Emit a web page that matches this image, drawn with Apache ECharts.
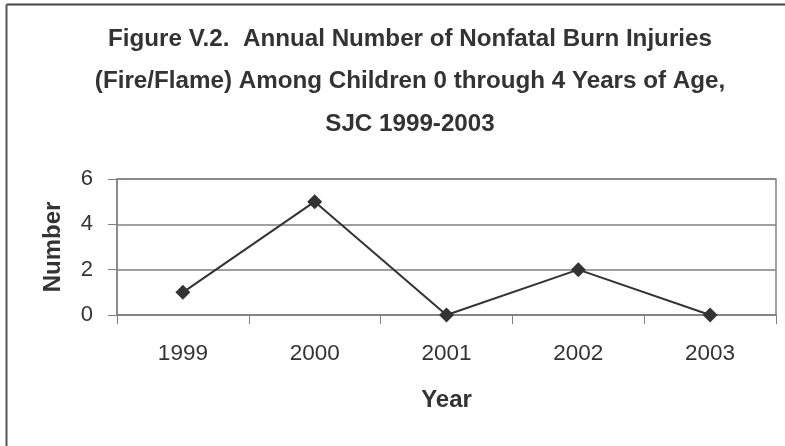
<!DOCTYPE html>
<html><head><meta charset="utf-8">
<script src="https://cdn.jsdelivr.net/npm/echarts@6/dist/echarts.min.js"></script>
<style>html,body{margin:0;padding:0;background:#fff}#c{width:785px;height:446px}</style>
</head><body><div id="c"></div>
<script>
var titleLines = ['Figure V.2.  Annual Number of Nonfatal Burn Injuries', '(Fire/Flame) Among Children 0 through 4 Years of Age,', 'SJC 1999-2003'];
var years = ['1999', '2000', '2001', '2002', '2003'];
var injuries = [1, 5, 0, 2, 0];
var yTicks = [0, 2, 4, 6];

var chart = echarts.init(document.getElementById('c'), null, {renderer: 'canvas'});
var font = 'Liberation Sans, Arial, sans-serif';
chart.setOption({
  animation: false,
  backgroundColor: '#fff',
  title: {
    text: titleLines.join('\n'),
    left: 405, top: 13, textAlign: 'center',
    textStyle: {fontFamily: font, fontSize: 24.2, fontWeight: 'bold', color: '#333', lineHeight: 42.5}
  },
  graphic: [
    {type: 'line', shape: {x1: 6.5, y1: 4.5, x2: 785, y2: 4.5}, style: {stroke: '#444', lineWidth: 2}},
    {type: 'line', shape: {x1: 6.5, y1: 4.5, x2: 6.5, y2: 446}, style: {stroke: '#555', lineWidth: 2}}
  ],
  grid: {left: 117, top: 179, right: 9, bottom: 131, show: true, borderColor: '#8a8080', borderWidth: 1.5, containLabel: false},
  xAxis: {
    type: 'category', data: years, boundaryGap: true,
    name: 'Year', nameLocation: 'middle', nameGap: 73,
    nameTextStyle: {fontFamily: font, fontSize: 24, fontWeight: 'bold', color: '#333'},
    axisLine: {show: true, lineStyle: {color: '#8a8080', width: 1.5}},
    axisTick: {show: true, length: 9, lineStyle: {color: '#808080'}},
    axisLabel: {fontFamily: font, fontSize: 22.5, color: '#333', margin: 27},
    splitLine: {show: false}
  },
  yAxis: {
    type: 'value', min: 0, max: 6, interval: 2,
    name: 'Number', nameLocation: 'middle', nameGap: 52,
    nameTextStyle: {fontFamily: font, fontSize: 24, fontWeight: 'bold', color: '#333'},
    axisLine: {show: true, lineStyle: {color: '#8a8080', width: 1.5}},
    axisTick: {show: true, length: 9, lineStyle: {color: '#808080'}},
    axisLabel: {fontFamily: font, fontSize: 22, color: '#333', margin: 24,
      formatter: function (v) { return yTicks.indexOf(v) >= 0 ? String(v) : ''; }},
    splitLine: {show: true, lineStyle: {color: '#808080', width: 1.5}}
  },
  series: [{
    type: 'line', data: injuries,
    symbol: 'diamond', symbolSize: 15,
    itemStyle: {color: '#333'},
    lineStyle: {color: '#333', width: 2}
  }]
});
</script></body></html>
